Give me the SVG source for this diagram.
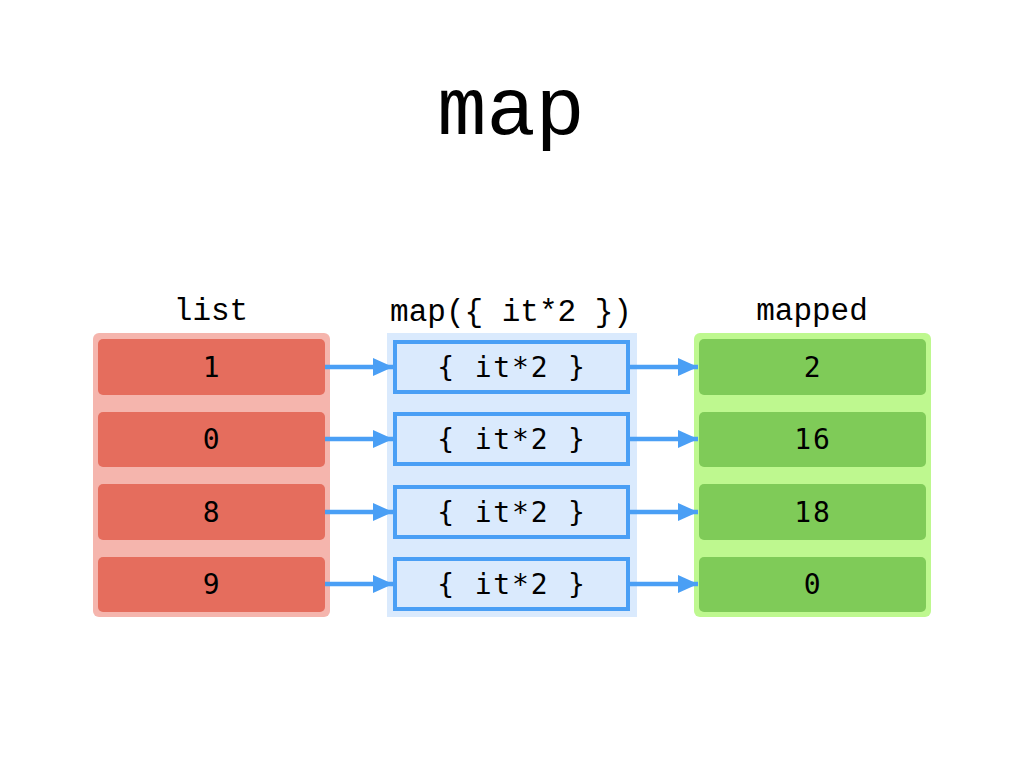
<svg xmlns="http://www.w3.org/2000/svg" width="1024" height="768" viewBox="0 0 1024 768">
<style>
.title{font-family:"Liberation Mono","Courier New",monospace;font-size:82px;fill:#000;text-anchor:middle}
.lbl{font-family:"Liberation Mono","Courier New",monospace;font-size:31px;fill:#000;text-anchor:middle}
.cell{font-family:"DejaVu Sans Mono",monospace;font-size:28px;fill:#000;text-anchor:middle;letter-spacing:1.8px}
.red{fill:#E56D5D}
.green{fill:#7FCB58}
.fn{fill:#DAEAFD;stroke:#4A9FF5;stroke-width:4}
.conn{stroke:#4A9FF5;stroke-width:4.5;fill:none;marker-end:url(#ah)}
</style>
<defs>
<marker id="ah" markerUnits="userSpaceOnUse" markerWidth="20" markerHeight="18" refX="20" refY="9" orient="auto">
<path d="M0,0 L20,9 L0,18 Z" fill="#4A9FF5"/>
</marker>
</defs>
<rect width="1024" height="768" fill="#fff"/>
<text class="title" x="511" y="134">map</text>

<g id="list">
<text class="lbl" x="211" y="320">list</text>
<rect x="93" y="333" width="237" height="284" rx="6" fill="#F5B5AD"/>
</g>
<g id="list-1"><rect class="red" x="98" y="339" width="227" height="56" rx="5"/><text class="cell" x="212" y="377">1</text></g>
<g id="list-0"><rect class="red" x="98" y="412" width="227" height="55" rx="5"/><text class="cell" x="212" y="449">0</text></g>
<g id="list-8"><rect class="red" x="98" y="484" width="227" height="56" rx="5"/><text class="cell" x="212" y="522">8</text></g>
<g id="list-9"><rect class="red" x="98" y="557" width="227" height="55" rx="5"/><text class="cell" x="212" y="594">9</text></g>

<g id="map">
<text class="lbl" x="511" y="321">map({ it*2 })</text>
<rect x="387" y="333" width="250" height="284" fill="#DAEAFD"/>
</g>
<g id="map-1"><rect class="fn" x="395" y="342" width="233" height="50"/><text class="cell" x="512" y="377">{ it*2 }</text></g>
<g id="map-2"><rect class="fn" x="395" y="414" width="233" height="50"/><text class="cell" x="512" y="449">{ it*2 }</text></g>
<g id="map-3"><rect class="fn" x="395" y="487" width="233" height="50"/><text class="cell" x="512" y="522">{ it*2 }</text></g>
<g id="map-4"><rect class="fn" x="395" y="559" width="233" height="50"/><text class="cell" x="512" y="594">{ it*2 }</text></g>

<g id="mapped">
<text class="lbl" x="812" y="320">mapped</text>
<rect x="694" y="333" width="237" height="284" rx="6" fill="#BEF88F"/>
</g>
<g id="mapped-2"><rect class="green" x="699" y="339" width="227" height="56" rx="5"/><text class="cell" x="813" y="377">2</text></g>
<g id="mapped-16"><rect class="green" x="699" y="412" width="227" height="55" rx="5"/><text class="cell" x="813" y="449">16</text></g>
<g id="mapped-18"><rect class="green" x="699" y="484" width="227" height="56" rx="5"/><text class="cell" x="813" y="522">18</text></g>
<g id="mapped-0"><rect class="green" x="699" y="557" width="227" height="55" rx="5"/><text class="cell" x="813" y="594">0</text></g>

<g id="connectors">
<line class="conn" x1="325" y1="367" x2="393" y2="367"/>
<line class="conn" x1="325" y1="439" x2="393" y2="439"/>
<line class="conn" x1="325" y1="512" x2="393" y2="512"/>
<line class="conn" x1="325" y1="584" x2="393" y2="584"/>
<line class="conn" x1="630" y1="367" x2="698" y2="367"/>
<line class="conn" x1="630" y1="439" x2="698" y2="439"/>
<line class="conn" x1="630" y1="512" x2="698" y2="512"/>
<line class="conn" x1="630" y1="584" x2="698" y2="584"/>
</g>
</svg>
